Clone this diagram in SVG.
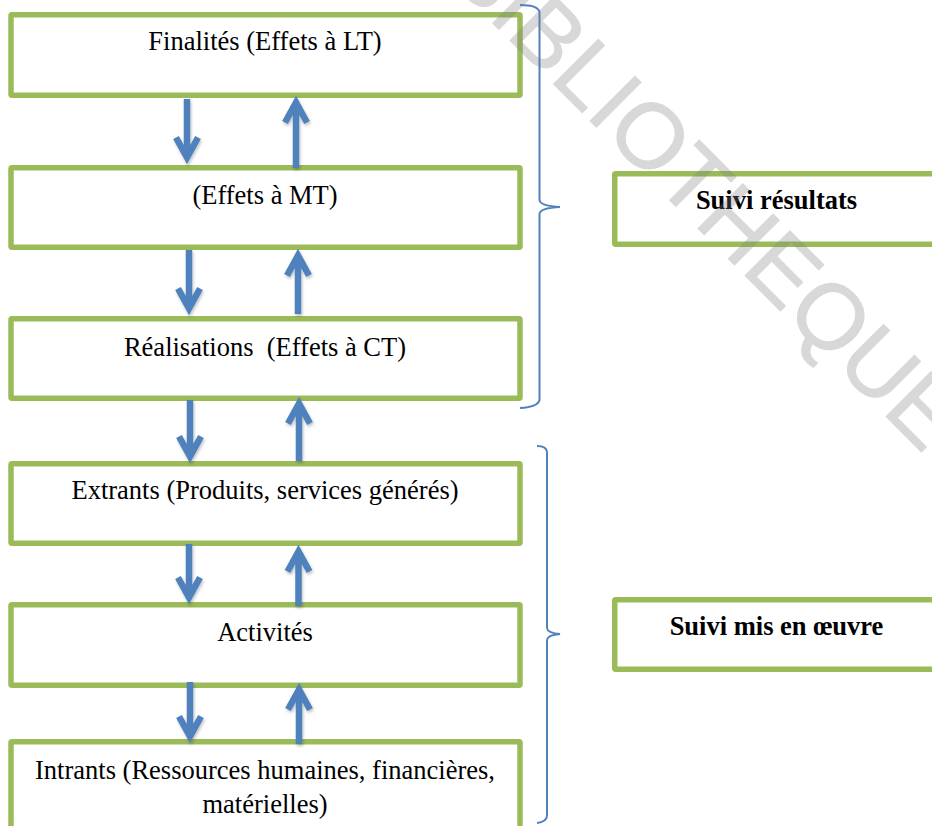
<svg xmlns="http://www.w3.org/2000/svg" width="932" height="826" viewBox="0 0 932 826">
  <defs>
    <filter id="arrowShadow" x="-50%" y="-10%" width="200%" height="130%">
      <feDropShadow dx="1" dy="2" stdDeviation="1.5" flood-color="#000" flood-opacity="0.25"/>
    </filter>
  </defs>
  <style>
    .box { fill: #ffffff; stroke: #9BBB59; stroke-width: 5.5; }
    .label { font-family: "Liberation Serif", "Times New Roman", serif; font-size: 26.5px; fill: #000; text-anchor: middle; }
    .tag { font-family: "Liberation Serif", "Times New Roman", serif; font-size: 26.5px; font-weight: bold; fill: #000; text-anchor: middle; }
    .arrow { fill: none; stroke: #4F81BD; stroke-width: 6.5; stroke-linejoin: miter; stroke-linecap: butt; }
    .brace { fill: none; stroke: #4F81BD; stroke-width: 2; }
    .mark { font-family: "Liberation Sans", Arial, sans-serif; font-size: 92px; fill: #808080; stroke: #808080; stroke-width: 1.2; opacity: 0.3; }
  </style>
  <rect width="932" height="826" fill="#ffffff"/>

  <!-- results chain, top to bottom -->
  <g id="finalites">
    <rect class="box" x="11" y="14.75" width="509" height="80.5" rx="1"/>
    <text class="label" x="265" y="50">Finalités (Effets à LT)</text>
  </g>
  <g id="effets-mt">
    <rect class="box" x="11" y="167.75" width="509" height="79.5" rx="1"/>
    <text class="label" x="265" y="204">(Effets à MT)</text>
  </g>
  <g id="realisations">
    <rect class="box" x="11" y="318.75" width="509" height="79.5" rx="1"/>
    <text class="label" x="265" y="356" xml:space="preserve">Réalisations  (Effets à CT)</text>
  </g>
  <g id="extrants">
    <rect class="box" x="11" y="463.75" width="509" height="79.5" rx="1"/>
    <text class="label" x="265" y="499">Extrants (Produits, services générés)</text>
  </g>
  <g id="activites">
    <rect class="box" x="11" y="604.75" width="509" height="80.5" rx="1"/>
    <text class="label" x="265" y="641">Activités</text>
  </g>
  <g id="intrants">
    <rect class="box" x="11" y="741.75" width="509" height="100" rx="1"/>
    <text class="label" x="265" y="779">Intrants (Ressources humaines, financières,</text>
    <text class="label" x="265" y="813">matérielles)</text>
  </g>

  <!-- monitoring categories -->
  <g id="suivi-resultats">
    <rect class="box" x="614.75" y="173.75" width="340" height="70.5" rx="1"/>
    <text class="tag" x="776.5" y="209">Suivi résultats</text>
  </g>
  <g id="suivi-mise-en-oeuvre">
    <rect class="box" x="614.75" y="599.75" width="340" height="69.5" rx="1"/>
    <text class="tag" x="776.5" y="635">Suivi mis en œuvre</text>
  </g>

  <!-- connectors: two-way arrows between levels, and grouping braces -->
  <g id="connectors">
    <g filter="url(#arrowShadow)">
      <path class="arrow" d="M187,99 V157.5 M176,137.5 L187,157.5 L198,137.5"/>
      <path class="arrow" d="M296,168 V102.5 M285,122.5 L296,102.5 L307,122.5"/>
      <path class="arrow" d="M189,250 V308.5 M178,288.5 L189,308.5 L200,288.5"/>
      <path class="arrow" d="M298,314 V255.5 M287,275.5 L298,255.5 L309,275.5"/>
      <path class="arrow" d="M190,400 V456.5 M179,436.5 L190,456.5 L201,436.5"/>
      <path class="arrow" d="M299,461 V403.5 M288,423.5 L299,403.5 L310,423.5"/>
      <path class="arrow" d="M189,544 V597.5 M178,577.5 L189,597.5 L200,577.5"/>
      <path class="arrow" d="M298.5,606 V551.5 M287.5,571.5 L298.5,551.5 L309.5,571.5"/>
      <path class="arrow" d="M190,682 V736.5 M179,716.5 L190,736.5 L201,716.5"/>
      <path class="arrow" d="M299,744 V689.5 M288,709.5 L299,689.5 L310,709.5"/>
    </g>
    <path class="brace" d="M520,5 Q538,5 539.5,12 L539.5,200 Q540,206 560,207 Q540,208 539.5,214 L539.5,400 Q538,407 520,408"/>
    <path class="brace" d="M537,446 Q546.5,446 547,452 L547,628 Q547.5,633 560,634 Q547.5,635 547,640 L547,816 Q546.5,822 537,823"/>
  </g>

  <!-- library watermark -->
  <text class="mark" transform="translate(443.3,-26.1) rotate(45)" x="0" y="0">BIBLIOTHEQUE</text>
</svg>
